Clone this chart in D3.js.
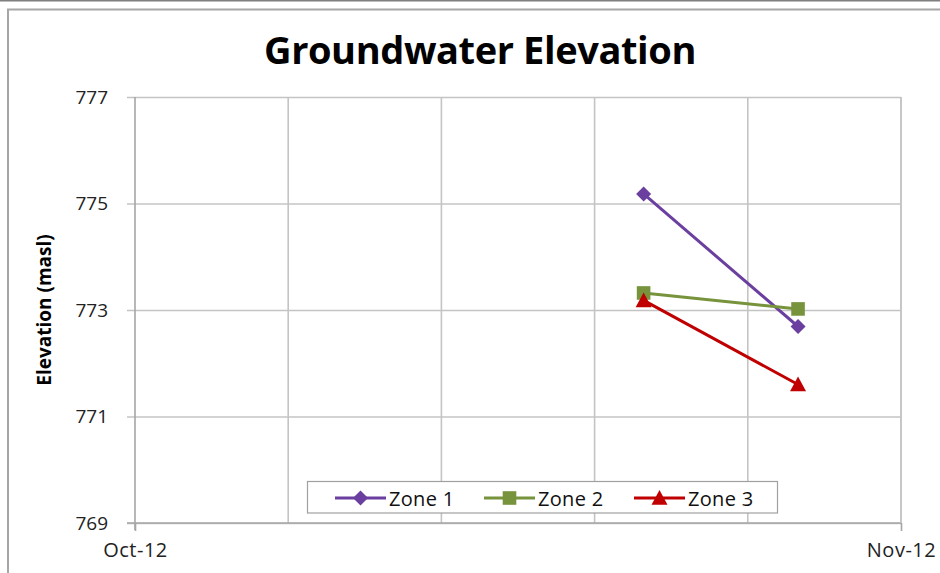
<!DOCTYPE html>
<html>
<head>
<meta charset="utf-8">
<script src="https://cdn.jsdelivr.net/npm/d3@7"></script>
<style>
  html, body { margin: 0; padding: 0; background: #fff; }
  svg { display: block; }
</style>
</head>
<body>
<svg id="chart" width="940" height="573"></svg>
<script>
// Groundwater elevation readings per monitoring zone (metres above sea level)
const zones = ["Zone 1", "Zone 2", "Zone 3"];
const readingDates = ["2012-10-21T14:00", "2012-10-27T20:00"];
const zone1 = [775.18, 772.69];
const zone2 = [773.32, 773.02];
const zone3 = [773.18, 771.6];
const yTicks = [769, 771, 773, 775, 777];
const xTickLabels = ["Oct-12", "Nov-12"];
const xDomain = ["2012-10-01T00:00", "2012-11-01T00:00"];

const colors = ["#6B3FA0", "#77933C", "#C00000"];
const seriesValues = [zone1, zone2, zone3];

// Marker shapes; size is the half-width in pixels
const diamond = { draw(ctx, r) { ctx.moveTo(0, -r); ctx.lineTo(r, 0); ctx.lineTo(0, r); ctx.lineTo(-r, 0); ctx.closePath(); } };
const square = { draw(ctx, r) { ctx.rect(-r, -r, 2 * r, 2 * r); } };
const triangle = { draw(ctx, r) { ctx.moveTo(0, -r); ctx.lineTo(r, r * 0.85); ctx.lineTo(-r, r * 0.85); ctx.closePath(); } };
const symbols = [diamond, square, triangle];
const markerSizes = [7.5, 6.8, 8];

const parse = d3.utcParse("%Y-%m-%dT%H:%M");
const svg = d3.select("#chart");
const font = "'Open Sans', sans-serif";

const plot = { left: 135, right: 901, top: 97, bottom: 523 };

const x = d3.scaleUtc()
  .domain(xDomain.map(parse))
  .range([plot.left, plot.right]);
const y = d3.scaleLinear()
  .domain([769, 777])
  .range([plot.bottom, plot.top]);

// Outer frame
svg.append("line").attr("x1", 0).attr("x2", 940).attr("y1", 0.5).attr("y2", 0.5)
  .attr("stroke", "#7f7f7f").attr("stroke-width", 2);
svg.append("rect").attr("x", 8).attr("y", 9.5).attr("width", 960).attr("height", 600)
  .attr("fill", "none").attr("stroke", "#a6a6a6").attr("stroke-width", 2);

// Title
svg.append("text")
  .attr("x", 480).attr("y", 64)
  .attr("text-anchor", "middle")
  .attr("font-family", font)
  .attr("font-weight", "bold")
  .attr("font-size", 38)
  .attr("letter-spacing", -0.4)
  .attr("fill", "#000")
  .text("Groundwater Elevation");

// Vertical grid: five equal date intervals across the month
const [d0, d1] = x.domain();
const xGrid = d3.range(6).map(i => new Date(+d0 + i * (d1 - d0) / 5));
svg.append("g").selectAll("line").data(xGrid.slice(1)).join("line")
  .attr("x1", d => x(d)).attr("x2", d => x(d))
  .attr("y1", plot.top).attr("y2", plot.bottom)
  .attr("stroke", "#c4c4c4").attr("stroke-width", 1.6);

// Horizontal grid + y axis
const yAxis = d3.axisLeft(y).tickValues(yTicks).tickSize(-(plot.right - plot.left + 8)).tickSizeOuter(0)
  .tickFormat(d3.format("d"));
const gy = svg.append("g").attr("transform", `translate(${plot.left - 8},0)`).call(yAxis);
gy.select(".domain").remove();
gy.selectAll(".tick line").attr("stroke", "#c4c4c4").attr("stroke-width", 1.6);
gy.selectAll(".tick text")
  .attr("x", -19)
  .attr("font-family", font)
  .attr("font-size", 19)
  .attr("fill", "#222");

svg.append("line")
  .attr("x1", plot.left).attr("x2", plot.left)
  .attr("y1", plot.top).attr("y2", plot.bottom + 7)
  .attr("stroke", "#a6a6a6").attr("stroke-width", 1.6);

// Bottom axis: labels only at the month boundaries
const xAxis = d3.axisBottom(x).tickValues([d0, d1]).tickSize(8).tickSizeOuter(0)
  .tickFormat((d, i) => xTickLabels[i]);
const gx = svg.append("g").attr("transform", `translate(0,${plot.bottom})`).call(xAxis);
gx.select(".domain").attr("d", `M${plot.left - 8},0H${plot.right}`)
  .attr("stroke", "#a6a6a6").attr("stroke-width", 1.6);
gx.selectAll(".tick line").attr("stroke", "#a6a6a6").attr("stroke-width", 1.6);
gx.selectAll(".tick text")
  .attr("y", 20)
  .attr("font-family", font)
  .attr("font-size", 20)
  .attr("letter-spacing", 0.5)
  .attr("fill", "#222");
svg.append("line")
  .attr("x1", plot.right).attr("x2", plot.right)
  .attr("y1", plot.top).attr("y2", plot.bottom)
  .attr("stroke", "#c4c4c4").attr("stroke-width", 1.6);

// Y axis title
svg.append("text")
  .attr("transform", `translate(51,${(plot.top + plot.bottom) / 2}) rotate(-90)`)
  .attr("text-anchor", "middle")
  .attr("font-family", font)
  .attr("font-weight", "bold")
  .attr("font-size", 19)
  .attr("fill", "#000")
  .text("Elevation (masl)");

// Series
const dates = readingDates.map(parse);
const line = d3.line().x(d => x(d.date)).y(d => y(d.value));

seriesValues.forEach((vals, s) => {
  const pts = vals.map((v, i) => ({ date: dates[i], value: v }));
  const g = svg.append("g");
  g.append("path").datum(pts)
    .attr("d", line)
    .attr("fill", "none")
    .attr("stroke", colors[s])
    .attr("stroke-width", 3);
  g.selectAll("path.m").data(pts).join("path")
    .attr("class", "m")
    .attr("transform", d => `translate(${x(d.date)},${y(d.value)})`)
    .attr("d", d3.symbol().type(symbols[s]).size(markerSizes[s]))
    .attr("fill", colors[s]);
});

// Legend
const legend = svg.append("g");
legend.append("rect")
  .attr("x", 307.5).attr("y", 481.5).attr("width", 470).attr("height", 31.5)
  .attr("fill", "#fff").attr("stroke", "#a0a0a0").attr("stroke-width", 1.2);
const legendX = [335, 484, 634];
zones.forEach((name, s) => {
  const lx = legendX[s];
  const ly = 498;
  legend.append("line")
    .attr("x1", lx).attr("x2", lx + 51).attr("y1", ly).attr("y2", ly)
    .attr("stroke", colors[s]).attr("stroke-width", 3);
  legend.append("path")
    .attr("transform", `translate(${lx + 25.5},${ly})`)
    .attr("d", d3.symbol().type(symbols[s]).size(markerSizes[s]))
    .attr("fill", colors[s]);
  legend.append("text")
    .attr("x", lx + 54).attr("y", ly + 7.5)
    .attr("font-family", font)
    .attr("font-size", 20)
    .attr("letter-spacing", 0.3)
    .attr("fill", "#111")
    .text(name);
});
</script>
</body>
</html>
